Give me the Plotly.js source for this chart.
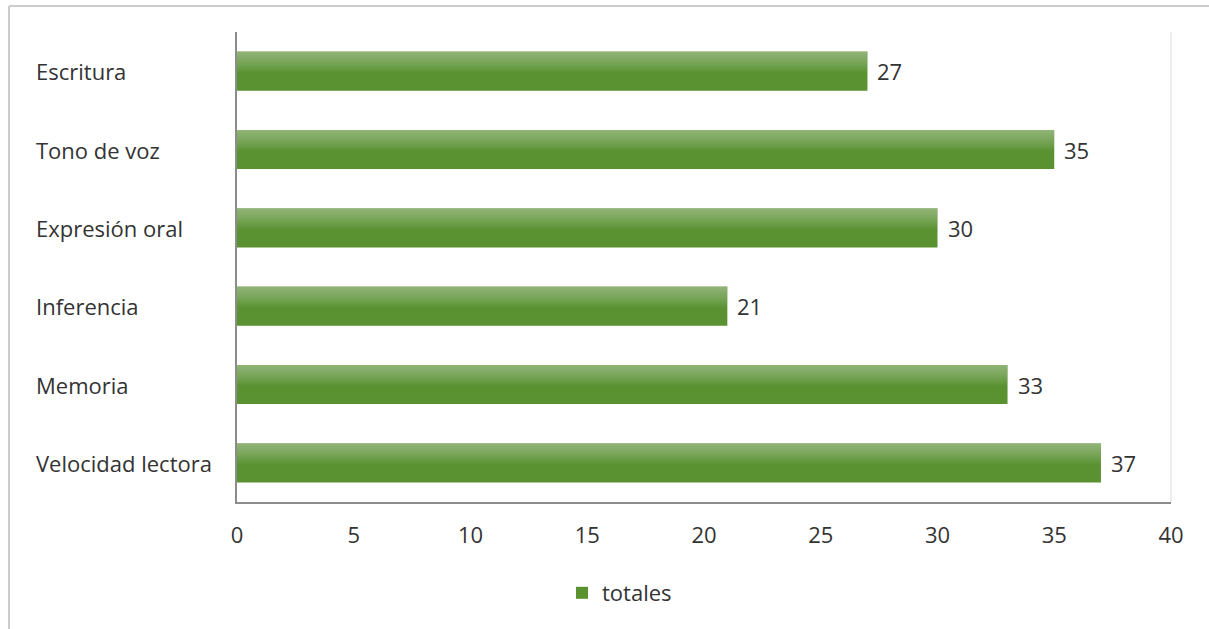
<!DOCTYPE html>
<html>
<head>
<meta charset="utf-8">
<script src="https://cdn.plot.ly/plotly-3.0.1.min.js"></script>
<style>
html,body{margin:0;padding:0;background:#fff;}
#chart{width:1209px;height:629px;}
</style>
</head>
<body>
<div id="chart"></div>
<script>
const categories = ['Escritura', 'Tono de voz', 'Expresión oral', 'Inferencia', 'Memoria', 'Velocidad lectora'];
const totales = [27, 35, 30, 21, 33, 37];
const xTicks = [0, 5, 10, 15, 20, 25, 30, 35, 40];
const seriesName = 'totales';

const W = 1209, H = 629;
const L = 237, R = 38, T = 32, B = 127;
const pw = W - L - R, ph = H - T - B;
const px = v => (v - L) / pw;
const py = v => (H - B - v) / ph;

const barW = 0.5;
const fontFam = '"Open Sans", "DejaVu Sans", sans-serif';
const txtColor = '#333333';
const fs = 22;

const traces = [{
  type: 'bar',
  orientation: 'h',
  name: seriesName,
  y: categories,
  x: totales,
  width: barW,
  marker: {color: '#5a9232', line: {width: 0}},
  hoverinfo: 'x+y'
}];
// smooth gradient highlight on the upper part of each bar
const nStrips = 14;
for (let k = 1; k <= nStrips; k++) {
  traces.push({
    type: 'bar', orientation: 'h', showlegend: false, hoverinfo: 'skip',
    y: categories, x: totales, width: 0.26 * k / nStrips, offset: -barW / 2,
    marker: {color: 'rgba(255,255,255,0.03)', line: {width: 0}}
  });
}

const annotations = [];
categories.forEach((c, i) => {
  annotations.push({
    xref: 'paper', yref: 'y', x: px(34), y: c, xanchor: 'left', yanchor: 'middle',
    text: c, showarrow: false, font: {family: fontFam, size: fs, color: txtColor}
  });
  annotations.push({
    xref: 'x', yref: 'y', x: totales[i], y: c, xanchor: 'left', yanchor: 'middle',
    xshift: 8, text: String(totales[i]), showarrow: false,
    font: {family: fontFam, size: fs, color: txtColor}
  });
});

const shapes = [
  {type: 'line', xref: 'paper', yref: 'paper', x0: px(9), x1: px(1230), y0: py(6), y1: py(6), line: {color: '#cccccc', width: 2}},
  {type: 'line', xref: 'paper', yref: 'paper', x0: px(9), x1: px(9), y0: py(6), y1: py(640), line: {color: '#cccccc', width: 2}},
  {type: 'line', xref: 'paper', yref: 'paper', x0: 1, x1: 1, y0: 0, y1: 1, line: {color: '#e8e8e8', width: 1.5}}
];

const layout = {
  width: W, height: H,
  margin: {l: L, r: R, t: T, b: B, pad: 0},
  paper_bgcolor: '#ffffff', plot_bgcolor: '#ffffff',
  barmode: 'overlay',
  showlegend: true,
  font: {family: fontFam, size: fs, color: txtColor},
  xaxis: {
    range: [0, 40], tickvals: xTicks, ticktext: xTicks.map(String),
    showgrid: false, zeroline: false, showline: true, linecolor: '#8c8c8c', linewidth: 2,
    ticks: '', ticklabelstandoff: 13, tickfont: {family: fontFam, size: fs, color: txtColor},
    fixedrange: true
  },
  yaxis: {
    type: 'category', autorange: 'reversed', showticklabels: false,
    showgrid: false, zeroline: false, showline: true, linecolor: '#8c8c8c', linewidth: 2,
    ticks: '', fixedrange: true
  },
  legend: {
    orientation: 'h', x: px(562), xanchor: 'left', y: py(593), yanchor: 'middle',
    font: {family: fontFam, size: fs, color: txtColor}, itemwidth: 30, bgcolor: 'rgba(0,0,0,0)'
  },
  annotations: annotations,
  shapes: shapes
};

Plotly.newPlot('chart', traces, layout, {displayModeBar: false, staticPlot: true});
</script>
</body>
</html>
